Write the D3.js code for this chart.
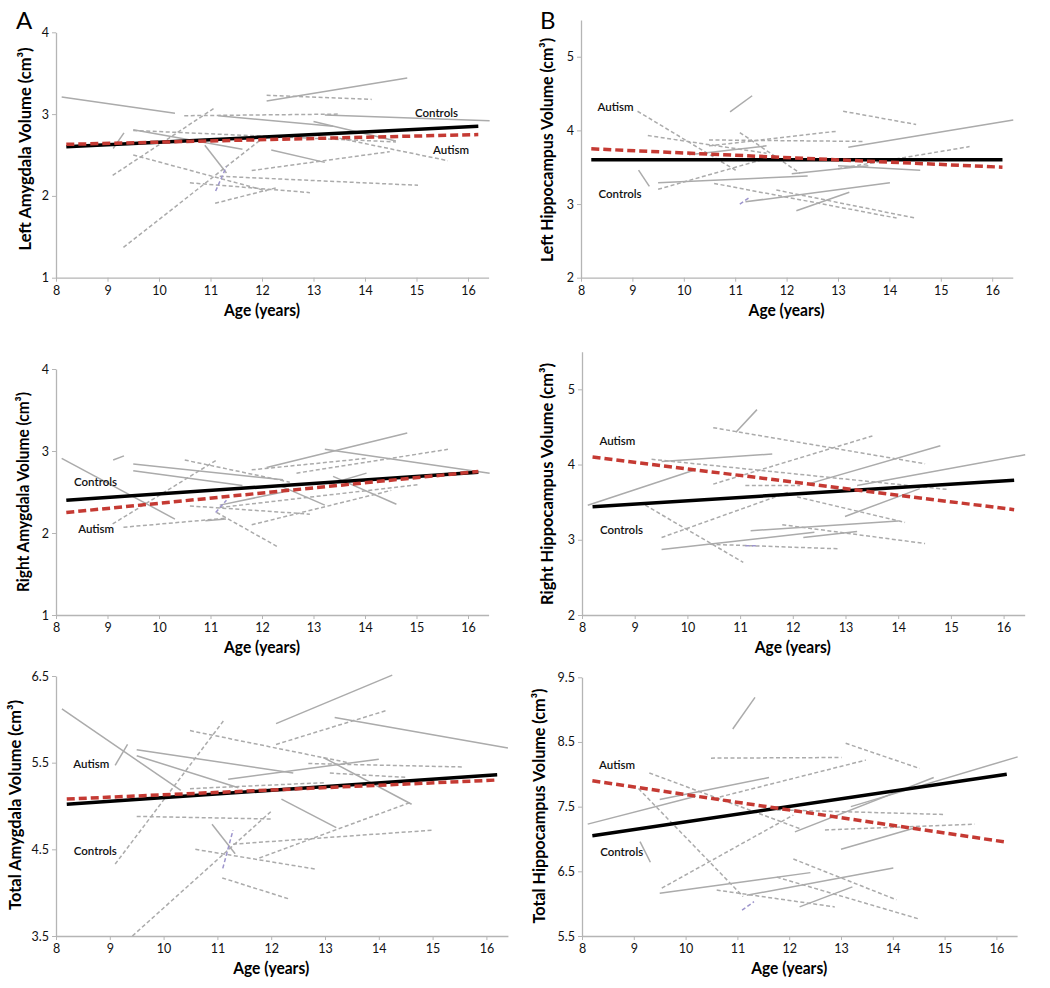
<!DOCTYPE html>
<html>
<head>
<meta charset="utf-8">
<script src="https://cdn.jsdelivr.net/npm/d3@7"></script>
<style>
  body { margin: 0; background: #fff; }
  svg { font-family: Lato, "Open Sans", sans-serif; }
</style>
</head>
<body>
<svg id="chart" width="1050" height="988"></svg>
<script>
// ages on the x axis
var ageTicks = [8, 9, 10, 11, 12, 13, 14, 15, 16];

// individual trajectories: [age1, vol1, age2, vol2]
var leftAmygControls = [
  [8.11,3.21,10.31,3.01],[12.09,3.16,14.82,3.44],[11.15,2.98,13.38,2.85],[13.22,2.99,16.42,2.92],
  [13.0,2.91,14.6,2.67],[9.5,2.81,11.62,2.57],[10.89,2.62,11.31,2.28],[12.18,2.56,13.22,2.41],
  [9.11,2.58,9.32,2.77]
];
var leftAmygAutism = [
  [9.1,2.25,11.09,3.08],[9.31,1.37,12.0,2.7],[9.5,2.5,12.09,2.06],[10.6,2.16,12.93,2.04],
  [11.09,1.91,12.28,2.1],[11.18,2.24,15.03,2.13],[11.8,2.31,14.48,2.54],[12.09,3.23,14.13,3.18],
  [13.38,2.72,15.61,2.43],[9.5,2.8,14.6,2.66],[10.49,2.98,13.48,3.0]
];
var leftAmygOther = [[11.1,2.06,11.31,2.36]];
var leftAmygFit = { controls: [8.2,2.6,16.2,2.85], autism: [8.2,2.63,16.2,2.75] };

var leftHippoControls = [
  [10.9,4.25,11.33,4.47],[13.2,3.77,16.41,4.14],[9.5,3.29,12.41,3.38],[12.1,3.41,13.59,3.52],
  [13.0,3.52,14.6,3.46],[9.12,3.46,9.33,3.24],[11.2,3.03,14.01,3.29],[12.19,2.91,13.22,3.16],
  [10.1,3.67,11.61,3.79]
];
var leftHippoAutism = [
  [9.1,4.26,11.03,3.45],[9.3,3.93,11.61,3.69],[10.49,3.87,13.52,3.85],[10.49,3.79,13.0,3.99],
  [13.1,4.26,14.52,4.08],[10.59,3.28,14.14,2.81],[11.8,3.19,14.5,2.81],[13.0,3.48,15.56,3.78],
  [9.5,3.2,11.61,3.62],[11.09,3.97,12.26,3.42]
];
var leftHippoOther = [[11.09,3.0,11.3,3.1]];
var leftHippoFit = { controls: [8.2,3.6,16.2,3.6], autism: [8.2,3.75,16.2,3.5] };

var rightAmygControls = [
  [8.11,2.91,10.31,2.17],[9.11,2.89,9.32,2.94],[9.5,2.84,12.41,2.65],[9.5,2.76,11.62,2.58],
  [12.09,2.8,14.82,3.22],[13.22,3.02,16.42,2.73],[12.3,2.59,13.22,2.34],[13.38,2.69,14.61,2.35],
  [13.38,2.61,14.03,2.73],[11.18,2.34,12.41,2.5],[10.9,2.15,11.3,2.17]
];
var rightAmygAutism = [
  [9.1,2.11,11.12,2.89],[9.31,2.07,11.3,2.18],[10.5,2.89,12.54,2.62],[10.6,2.33,12.93,2.23],
  [11.12,2.25,12.31,1.83],[11.18,2.31,15.03,2.59],[11.8,2.1,14.51,2.52],[12.67,2.73,15.61,3.02],
  [11.8,2.77,14.03,2.91]
];
var rightAmygOther = [[11.1,2.25,11.31,2.4]];
var rightAmygFit = { controls: [8.2,2.4,16.2,2.74], autism: [8.2,2.25,16.2,2.75] };

var rightHippoControls = [
  [10.92,4.43,11.32,4.73],[9.51,4.04,11.61,4.14],[8.11,3.46,10.15,3.93],[12.33,3.75,14.8,4.25],
  [13.22,3.72,16.41,4.13],[12.99,3.31,14.41,3.68],[9.51,2.87,12.41,3.1],[11.2,3.12,14.0,3.25],
  [12.2,3.03,13.22,3.11]
];
var rightHippoAutism = [
  [10.49,4.49,14.51,4.01],[10.49,3.74,13.51,4.38],[9.51,3.03,11.95,3.64],[9.2,3.46,11.06,2.7],
  [9.32,4.07,14.92,3.67],[11.1,3.72,12.14,3.72],[12.08,3.57,14.13,3.23],[11.8,3.2,14.51,2.95],
  [10.43,2.94,12.87,2.88]
];
var rightHippoOther = [[11.1,2.92,11.35,2.92]];
var rightHippoFit = { controls: [8.2,3.44,16.2,3.79], autism: [8.2,4.1,16.2,3.4] };

var totalAmygControls = [
  [8.11,6.12,10.32,5.18],[9.1,5.47,9.33,5.71],[9.5,5.65,12.41,5.38],[9.5,5.58,11.39,5.21],
  [12.09,5.95,14.25,6.51],[13.18,6.02,16.4,5.67],[11.2,5.31,14.0,5.54],[12.97,5.56,14.61,5.02],
  [12.19,5.08,13.21,4.75],[10.9,4.79,11.33,4.45]
];
var totalAmygAutism = [
  [9.1,4.33,11.11,5.98],[9.42,3.5,12.02,4.95],[10.49,5.87,13.43,5.5],[12.09,5.71,14.13,6.1],
  [12.69,5.49,15.58,5.45],[13.09,5.38,14.51,5.33],[10.49,5.2,13.02,5.27],[9.5,4.88,12.02,4.85],
  [11.29,4.56,14.98,4.72],[11.78,4.4,14.58,5.04],[10.59,4.5,12.84,4.27],[11.09,4.17,12.32,3.93]
];
var totalAmygOther = [[11.1,4.28,11.29,4.72]];
var totalAmygFit = { controls: [8.2,5.02,16.2,5.36], autism: [8.2,5.08,16.2,5.3] };

var totalHippoControls = [
  [10.91,8.7,11.34,9.19],[8.11,7.23,10.2,7.66],[9.5,7.61,11.61,7.95],[9.12,6.96,9.32,6.64],
  [12.11,7.11,14.79,7.95],[13.19,7.5,16.41,8.27],[13.0,6.84,14.42,7.17],[9.5,6.16,12.41,6.48],
  [11.18,6.13,14.01,6.55],[12.2,5.95,13.22,6.26]
];
var totalHippoAutism = [
  [10.49,8.25,13.01,8.26],[13.09,8.48,14.52,8.09],[9.3,8.02,12.24,7.15],[9.09,7.78,11.11,6.11],
  [9.54,6.24,12.08,7.37],[10.66,7.65,13.48,8.22],[12.69,7.14,15.58,7.23],[11.76,7.45,14.97,7.38],
  [12.08,6.69,14.07,6.06],[11.76,6.41,14.52,5.76],[10.6,6.21,12.88,5.95]
];
var totalHippoOther = [[11.09,5.9,11.32,6.03]];
var totalHippoFit = { controls: [8.2,7.05,16.2,8.0], autism: [8.2,7.9,16.2,6.95] };

// panel layout
var panels = [
  { title: "Left Amygdala Volume (cm³)", tl: 203, letter: "A", left: 56, ppy: 51.5, yTop: 32.3, yBot: 277.7,
    yDom: [1, 4], yTicks: [1,2,3,4], fmt: "d", titleX: 27, titleY: 149, xLabelY: 312,
    controls: leftAmygControls, autism: leftAmygAutism, other: leftAmygOther, fit: leftAmygFit,
    labels: [["Controls", 14.97, 3.0], ["Autism", 15.32, 2.55]] },
  { title: "Left Hippocampus Volume (cm³)", tl: 224, letter: "B", left: 581, ppy: 51.4, yTop: 19.9, yBot: 277.7,
    yDom: [2, 5.5], yTicks: [2,3,4,5], fmt: "d", titleX: 549, titleY: 150, xLabelY: 312,
    controls: leftHippoControls, autism: leftHippoAutism, other: leftHippoOther, fit: leftHippoFit,
    labels: [["Autism", 8.32, 4.3], ["Controls", 8.34, 3.12]] },
  { title: "Right Amygdala Volume (cm³)", tl: 200, left: 56, ppy: 51.5, yTop: 369, yBot: 615,
    yDom: [1, 4], yTicks: [1,2,3,4], fmt: "d", titleX: 25, titleY: 492, xLabelY: 649,
    controls: rightAmygControls, autism: rightAmygAutism, other: rightAmygOther, fit: rightAmygFit,
    labels: [["Controls", 8.35, 2.61], ["Autism", 8.43, 2.04]] },
  { title: "Right Hippocampus Volume (cm³)", tl: 242, left: 582, ppy: 52.7, yTop: 351.7, yBot: 615,
    yDom: [2, 5.5], yTicks: [2,3,4,5], fmt: "d", titleX: 549, titleY: 484, xLabelY: 649,
    controls: rightHippoControls, autism: rightHippoAutism, other: rightHippoOther, fit: rightHippoFit,
    labels: [["Autism", 8.33, 4.3], ["Controls", 8.34, 3.12]] },
  { title: "Total Amygdala Volume (cm³)", tl: 210, left: 56, ppy: 53.8, yTop: 676, yBot: 936,
    yDom: [3.5, 6.5], yTicks: [3.5,4.5,5.5,6.5], fmt: ".1f", titleX: 17, titleY: 805, xLabelY: 970,
    controls: totalAmygControls, autism: totalAmygAutism, other: totalAmygOther, fit: totalAmygFit,
    labels: [["Autism", 8.32, 5.47], ["Controls", 8.33, 4.47]] },
  { title: "Total Hippocampus Volume (cm³)", tl: 235, left: 582, ppy: 51.8, yTop: 677.3, yBot: 936,
    yDom: [5.5, 9.5], yTicks: [5.5,6.5,7.5,8.5,9.5], fmt: ".1f", titleX: 541, titleY: 806, xLabelY: 970,
    controls: totalHippoControls, autism: totalHippoAutism, other: totalHippoOther, fit: totalHippoFit,
    labels: [["Autism", 8.33, 8.13], ["Controls", 8.35, 6.79]] }
];

var svg = d3.select("#chart");

panels.forEach(function(p){
  var x = d3.scaleLinear().domain([8, 16.4]).range([p.left, p.left + 8.4 * p.ppy]);
  var y = d3.scaleLinear().domain(p.yDom).range([p.yBot, p.yTop]);
  var g = svg.append("g");

  // axes
  var xa = g.append("g").attr("transform", "translate(0," + p.yBot + ")")
      .call(d3.axisBottom(x).tickValues(ageTicks).tickSize(4).tickSizeOuter(0).tickFormat(d3.format("d")));
  var ya = g.append("g").attr("transform", "translate(" + p.left + ",0)")
      .call(d3.axisLeft(y).tickValues(p.yTicks).tickSize(4).tickSizeOuter(0).tickFormat(d3.format(p.fmt)));
  [xa, ya].forEach(function(a){
    a.select(".domain").attr("stroke", "#b5b5b5").attr("stroke-width", 1.3);
    a.selectAll(".tick line").attr("stroke", "#b5b5b5");
    a.selectAll("text").attr("fill", "#111").style("font-size", "12.5px").style("font-family", "Lato, sans-serif");
  });
  xa.selectAll("text").attr("y", 8).attr("dy", "0.71em");
  ya.selectAll("text").attr("x", -7);

  // titles
  g.append("text").attr("x", x(12)).attr("y", p.xLabelY).attr("text-anchor", "middle")
    .attr("dominant-baseline", "middle").style("font-size", "17.5px").style("font-weight", "bold")
    .attr("textLength", 76).attr("lengthAdjust", "spacingAndGlyphs")
    .text("Age (years)");
  g.append("text").attr("transform", "translate(" + p.titleX + "," + p.titleY + ") rotate(-90)")
    .attr("text-anchor", "middle").attr("dominant-baseline", "middle")
    .attr("textLength", p.tl).attr("lengthAdjust", "spacingAndGlyphs")
    .style("font-size", "17px").style("font-weight", "bold").text(p.title);
  if (p.letter) {
    g.append("text").attr("x", p.letter === "A" ? 16 : 540).attr("y", 29)
      .style("font-size", "24px").text(p.letter);
  }

  // individual trajectories
  function segs(data, color, dash){
    g.selectAll(null).data(data).enter().append("line")
      .attr("x1", function(d){ return x(d[0]); }).attr("y1", function(d){ return y(d[1]); })
      .attr("x2", function(d){ return x(d[2]); }).attr("y2", function(d){ return y(d[3]); })
      .attr("stroke", color).attr("stroke-width", 1.5)
      .attr("stroke-dasharray", dash);
  }
  segs(p.controls, "#ababab", null);
  segs(p.autism, "#ababab", "4,2.5");
  segs(p.other, "#9d95cc", "4,2.5");

  // group fits
  var fc = p.fit.controls, fa = p.fit.autism;
  g.append("line").attr("x1", x(fc[0])).attr("y1", y(fc[1])).attr("x2", x(fc[2])).attr("y2", y(fc[3]))
    .attr("stroke", "#000").attr("stroke-width", 3.5);
  g.append("line").attr("x1", x(fa[0])).attr("y1", y(fa[1])).attr("x2", x(fa[2])).attr("y2", y(fa[3]))
    .attr("stroke", "#c53a33").attr("stroke-width", 3.5).attr("stroke-dasharray", "8,4");

  // group labels
  g.selectAll(null).data(p.labels).enter().append("text")
    .attr("x", function(d){ return x(d[1]); }).attr("y", function(d){ return y(d[2]); })
    .attr("dominant-baseline", "middle").style("font-size", "11.5px").style("font-weight", "600")
    .attr("fill", "#111").text(function(d){ return d[0]; });
});
</script>
</body>
</html>
